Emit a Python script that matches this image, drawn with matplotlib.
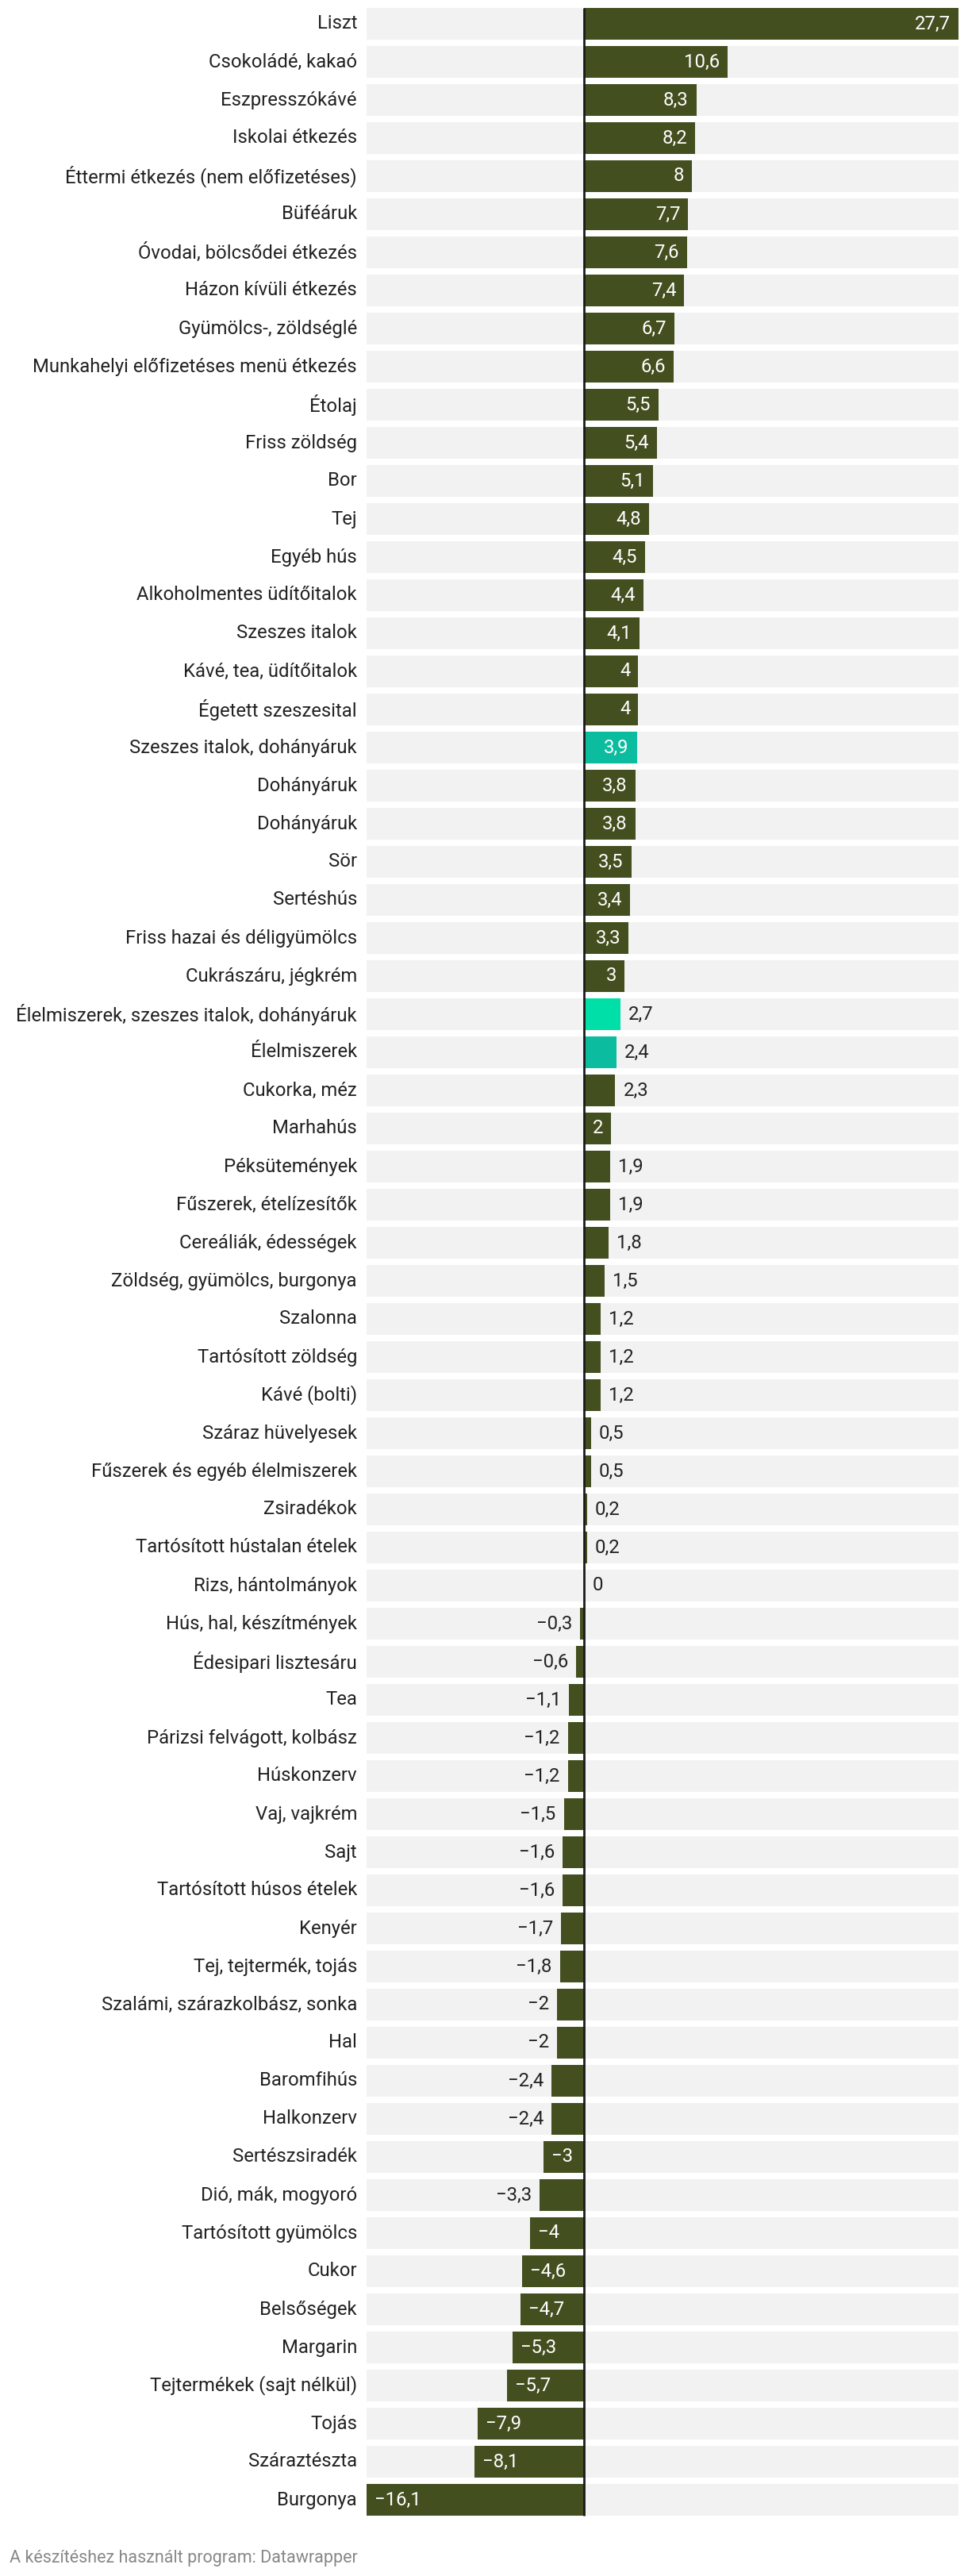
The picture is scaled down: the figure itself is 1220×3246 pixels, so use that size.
import matplotlib
matplotlib.use("Agg")
import matplotlib.pyplot as plt
from matplotlib.transforms import offset_copy

plt.rcParams['font.family'] = ['Roboto', 'DejaVu Sans']

categories = [
    "Liszt", "Csokoládé, kakaó", "Eszpresszókávé", "Iskolai étkezés",
    "Éttermi étkezés (nem előfizetéses)", "Büféáruk", "Óvodai, bölcsődei étkezés",
    "Házon kívüli étkezés", "Gyümölcs-, zöldséglé", "Munkahelyi előfizetéses menü étkezés",
    "Étolaj", "Friss zöldség", "Bor", "Tej", "Egyéb hús", "Alkoholmentes üdítőitalok",
    "Szeszes italok", "Kávé, tea, üdítőitalok", "Égetett szeszesital",
    "Szeszes italok, dohányáruk", "Dohányáruk", "Dohányáruk", "Sör", "Sertéshús",
    "Friss hazai és déligyümölcs", "Cukrászáru, jégkrém",
    "Élelmiszerek, szeszes italok, dohányáruk", "Élelmiszerek", "Cukorka, méz",
    "Marhahús", "Péksütemények", "Fűszerek, ételízesítők", "Cereáliák, édességek",
    "Zöldség, gyümölcs, burgonya", "Szalonna", "Tartósított zöldség", "Kávé (bolti)",
    "Száraz hüvelyesek", "Fűszerek és egyéb élelmiszerek", "Zsiradékok",
    "Tartósított hústalan ételek", "Rizs, hántolmányok", "Hús, hal, készítmények",
    "Édesipari lisztesáru", "Tea", "Párizsi felvágott, kolbász", "Húskonzerv",
    "Vaj, vajkrém", "Sajt", "Tartósított húsos ételek", "Kenyér", "Tej, tejtermék, tojás",
    "Szalámi, szárazkolbász, sonka", "Hal", "Baromfihús", "Halkonzerv", "Sertészsiradék",
    "Dió, mák, mogyoró", "Tartósított gyümölcs", "Cukor", "Belsőségek", "Margarin",
    "Tejtermékek (sajt nélkül)", "Tojás", "Száraztészta", "Burgonya",
]

values = [
    27.7, 10.6, 8.3, 8.2, 8, 7.7, 7.6, 7.4, 6.7, 6.6,
    5.5, 5.4, 5.1, 4.8, 4.5, 4.4, 4.1, 4, 4,
    3.9, 3.8, 3.8, 3.5, 3.4, 3.3, 3,
    2.7, 2.4, 2.3, 2, 1.9, 1.9, 1.8, 1.5, 1.2, 1.2, 1.2,
    0.5, 0.5, 0.2, 0.2, 0, -0.3, -0.6, -1.1, -1.2, -1.2,
    -1.5, -1.6, -1.6, -1.7, -1.8, -2, -2, -2.4, -2.4, -3,
    -3.3, -4, -4.6, -4.7, -5.3, -5.7, -7.9, -8.1, -16.1,
]

highlight_teal = ["Szeszes italok, dohányáruk", "Élelmiszerek"]
highlight_bright = ["Élelmiszerek, szeszes italok, dohányáruk"]

OLIVE = "#434f1f"
TEAL = "#0cbc9f"
BRIGHT = "#00dfa8"
BG = "#f2f2f2"
TXT = "#222222"

W, H, DPI = 1220, 3246, 100
fig = plt.figure(figsize=(W / DPI, H / DPI), dpi=DPI)

n = len(categories)
pitch = 48
left_px, right_px = 462, 1208
top_px = 10 - 4
ax_h = n * pitch
ax = fig.add_axes([left_px / W, (H - top_px - ax_h) / H,
                   (right_px - left_px) / W, ax_h / H])
xmin, xmax = min(values), max(values)
ax.set_xlim(xmin, xmax)
ax.set_ylim(n - 0.5, -0.5)
ax.axis("off")

bh = 40 / 48
ys = list(range(n))
ax.barh(ys, [xmax - xmin] * n, left=xmin, height=bh, color=BG, zorder=1)

colors = []
for c in categories:
    if c in highlight_bright:
        colors.append(BRIGHT)
    elif c in highlight_teal:
        colors.append(TEAL)
    else:
        colors.append(OLIVE)
ax.barh(ys, values, height=bh, color=colors, zorder=2)

ax.plot([0, 0], [-0.5 + 4 / 48, n - 0.5 - 4 / 48], color="#1a1a1a", lw=2,
        zorder=3, solid_capstyle="butt")

fs_label = 17.2
fs_val = 17.2

lab_tr = offset_copy(ax.transData, fig=fig, x=-12, y=0, units="dots")
for y, c in zip(ys, categories):
    ax.text(xmin, y, c, transform=lab_tr, ha="right", va="center",
            fontsize=fs_label, color=TXT)

fig.canvas.draw()
renderer = fig.canvas.get_renderer()
pxu = (right_px - left_px) / (xmax - xmin)
pad = 10
fit_pad = 8


def fmt(v):
    s = f"{v:g}".replace(".", ",")
    return s.replace("-", "\u2212")


for y, v in zip(ys, values):
    s = fmt(v)
    t = ax.text(0, y, s, fontsize=fs_val)
    tw = t.get_window_extent(renderer).width
    t.remove()
    bar_w = abs(v) * pxu
    inside = (tw + 2 * fit_pad) <= bar_w
    if v >= 0:
        if inside:
            tr = offset_copy(ax.transData, fig=fig, x=-pad, y=0, units="dots")
            ax.text(v, y, s, transform=tr, ha="right", va="center",
                    fontsize=fs_val, color="white", zorder=4)
        else:
            tr = offset_copy(ax.transData, fig=fig, x=pad, y=0, units="dots")
            ax.text(v, y, s, transform=tr, ha="left", va="center",
                    fontsize=fs_val, color=TXT, zorder=4)
    else:
        if inside:
            tr = offset_copy(ax.transData, fig=fig, x=pad, y=0, units="dots")
            ax.text(v, y, s, transform=tr, ha="left", va="center",
                    fontsize=fs_val, color="white", zorder=4)
        else:
            tr = offset_copy(ax.transData, fig=fig, x=-pad, y=0, units="dots")
            ax.text(v, y, s, transform=tr, ha="right", va="center",
                    fontsize=fs_val, color=TXT, zorder=4)

fig.text(12 / W, 1 - 3223 / H, "A készítéshez használt program: Datawrapper",
         ha="left", va="center", fontsize=15.5, color="#888888")

fig.savefig("out.png", dpi=DPI, facecolor="white")
